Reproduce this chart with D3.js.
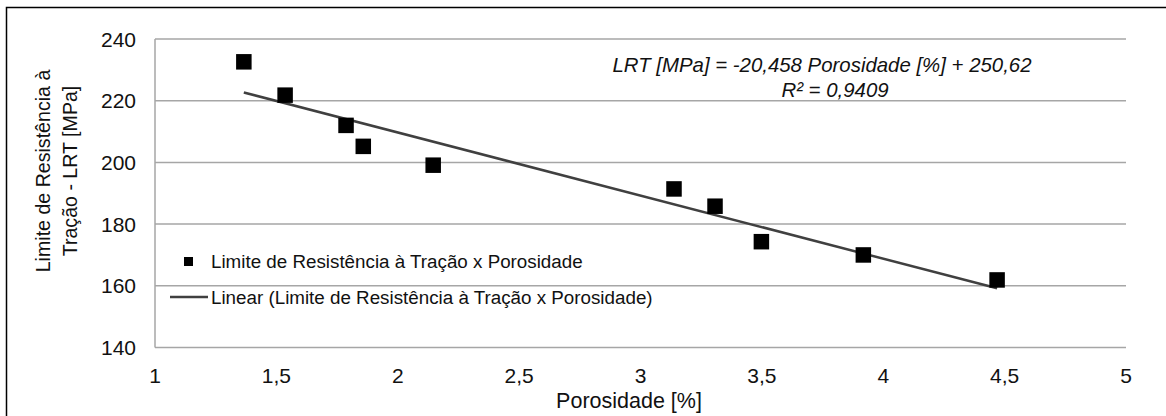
<!DOCTYPE html>
<html>
<head>
<meta charset="utf-8">
<script src="https://cdnjs.cloudflare.com/ajax/libs/d3/7.8.5/d3.min.js"></script>
<style>
  html, body { margin: 0; padding: 0; background: #fff; }
  svg { display: block; font-family: "Liberation Sans", Arial, sans-serif; }
</style>
</head>
<body>
<div id="chart"></div>
<script>
// data
const porosity = [1.366, 1.536, 1.787, 1.858, 2.146, 3.138, 3.307, 3.498, 3.918, 4.469];
const lrt = [232.6, 221.8, 212.0, 205.2, 199.1, 191.4, 185.8, 174.3, 170.0, 161.9];
const xTicks = [1, 1.5, 2, 2.5, 3, 3.5, 4, 4.5, 5];
const yTicks = [140, 160, 180, 200, 220, 240];
const trendCoef = [-20.458, 250.62]; // slope, intercept
const rSquared = "0,9409";
const seriesName = "Limite de Resistência à Tração x Porosidade";

const width = 1166, height = 416;
const fmt = d => String(d).replace(".", ",");

let svg = d3.select("#chart").append("svg")
  .attr("width", width)
  .attr("height", height);

// outer chart border
svg.append("rect")
  .attr("x", 6.5).attr("y", 7.5)
  .attr("width", width + 20).attr("height", height + 20)
  .attr("fill", "none")
  .attr("stroke", "#000")
  .attr("stroke-width", 1.5);

let x = d3.scaleLinear().domain([1, 5]).range([155, 1126]);
let y = d3.scaleLinear().domain([140, 240]).range([347.5, 39]);

// gridlines
svg.append("g")
  .selectAll("line")
  .data(yTicks)
  .join("line")
  .attr("x1", x(1)).attr("x2", x(5))
  .attr("y1", d => y(d)).attr("y2", d => y(d))
  .attr("stroke", "#a6a6a6")
  .attr("stroke-width", 1.5);

// left axis line
svg.append("line")
  .attr("x1", x(1)).attr("x2", x(1))
  .attr("y1", y(240)).attr("y2", y(140))
  .attr("stroke", "#a6a6a6")
  .attr("stroke-width", 1.5);

// y tick labels
svg.append("g")
  .selectAll("text")
  .data(yTicks)
  .join("text")
  .attr("x", 136)
  .attr("y", d => y(d) + 7.5)
  .attr("text-anchor", "end")
  .style("font-size", "21px")
  .attr("fill", "#111")
  .text(d => d);

// x tick labels
svg.append("g")
  .selectAll("text")
  .data(xTicks)
  .join("text")
  .attr("x", d => x(d))
  .attr("y", 382.5)
  .attr("text-anchor", "middle")
  .style("font-size", "21px")
  .attr("fill", "#111")
  .text(fmt);

// axis titles
svg.append("text")
  .attr("x", 629).attr("y", 408)
  .attr("text-anchor", "middle")
  .style("font-size", "21.5px")
  .attr("fill", "#111")
  .text("Porosidade [%]");

let yTitle = svg.append("text")
  .attr("transform", "translate(0,171) rotate(-90)")
  .attr("text-anchor", "middle")
  .style("font-size", "19.6px")
  .attr("fill", "#111");
yTitle.append("tspan").attr("x", 0).attr("y", 50).text("Limite de Resistência à");
yTitle.append("tspan").attr("x", 0).attr("y", 77).text("Tração - LRT [MPa]");

// linear trendline over the data range
let ext = d3.extent(porosity);
let trend = ext.map(p => [p, trendCoef[0] * p + trendCoef[1]]);
svg.append("path")
  .datum(trend)
  .attr("d", d3.line().x(d => x(d[0])).y(d => y(d[1])))
  .attr("fill", "none")
  .attr("stroke", "#404040")
  .attr("stroke-width", 2.5);

// markers
const ms = 15.5;
svg.append("g")
  .selectAll("rect")
  .data(porosity.map((p, i) => [p, lrt[i]]))
  .join("rect")
  .attr("x", d => x(d[0]) - ms / 2)
  .attr("y", d => y(d[1]) - ms / 2)
  .attr("width", ms).attr("height", ms)
  .attr("fill", "#000");

// trendline equation
let eq = svg.append("text")
  .attr("text-anchor", "middle")
  .style("font-size", "20.4px")
  .style("font-style", "italic")
  .attr("fill", "#111");
eq.append("tspan").attr("x", 822).attr("y", 72)
  .text("LRT [MPa] = " + fmt(trendCoef[0]) + " Porosidade [%] + " + fmt(trendCoef[1]));
eq.append("tspan").attr("x", 835).attr("y", 96.5)
  .text("R² = " + rSquared);

// legend
let legend = svg.append("g").style("font-size", "18.8px").attr("fill", "#111");
legend.append("rect")
  .attr("x", 184).attr("y", 257)
  .attr("width", 9).attr("height", 9)
  .attr("fill", "#000");
legend.append("text").attr("x", 211).attr("y", 267.5).text(seriesName);
legend.append("line")
  .attr("x1", 170).attr("x2", 208)
  .attr("y1", 297).attr("y2", 297)
  .attr("stroke", "#404040")
  .attr("stroke-width", 2.5);
legend.append("text").attr("x", 211).attr("y", 303.5).text("Linear (" + seriesName + ")");
</script>
</body>
</html>
